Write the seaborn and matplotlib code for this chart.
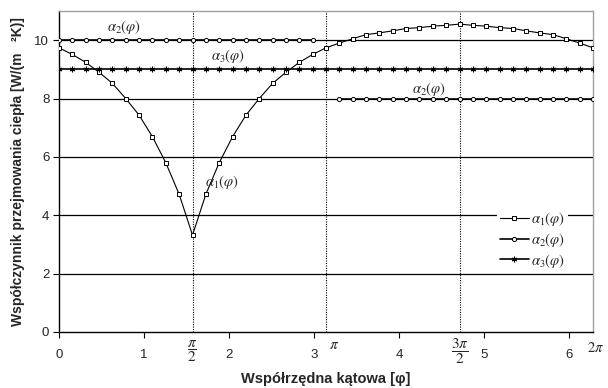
import numpy as np
import pandas as pd
import matplotlib
matplotlib.use("Agg")
import matplotlib.pyplot as plt
import matplotlib.transforms as mtransforms
import seaborn as sns

# ---- data ----
n_steps = 40
phi = [i * 2 * np.pi / n_steps for i in range(n_steps + 1)]
alpha1 = [9.74, 9.51, 9.24, 8.90, 8.52, 8.00, 7.43, 6.69, 5.80, 4.72, 3.32,
          4.72, 5.80, 6.69, 7.43, 8.00, 8.52, 8.90, 9.24, 9.51, 9.74,
          9.90, 10.05, 10.19, 10.25, 10.32, 10.40, 10.43, 10.48, 10.51, 10.55,
          10.51, 10.48, 10.43, 10.40, 10.32, 10.25, 10.19, 10.05, 9.90, 9.74]
alpha2 = [10] * 20 + [None] + [8] * 20
alpha3 = [9] * 41
x_ticks = [0, 1, 2, 3, 4, 5, 6]
y_ticks = [0, 2, 4, 6, 8, 10]
pi_labels = [(np.pi / 2, r'$\dfrac{\pi}{2}$'), (3 * np.pi / 2, r'$\dfrac{3\pi}{2}$')]
label_a1 = r'$\alpha_1(\varphi)$'
label_a2 = r'$\alpha_2(\varphi)$'
label_a3 = r'$\alpha_3(\varphi)$'

sns.set_style("white")
plt.rcParams['font.family'] = ['Liberation Sans', 'DejaVu Sans']
plt.rcParams['mathtext.fontset'] = 'stix'

fig = plt.figure(figsize=(6.08, 3.88), dpi=100)
ax = fig.add_axes([59 / 608, 1 - 332 / 388, (593 - 59) / 608, (332 - 11) / 388])

df = pd.DataFrame({'phi': phi, 'a1': alpha1,
                   'a2': [np.nan if v is None else v for v in alpha2], 'a3': alpha3})

# horizontal grid
for yv in y_ticks[1:]:
    ax.axhline(yv, color='black', lw=0.9, zorder=1)
# dotted verticals
for xv in [np.pi / 2, np.pi, 3 * np.pi / 2]:
    ax.axvline(xv, color='black', lw=0.8, ls=(0, (1, 1.2)), zorder=1)

mk = dict(markersize=3, markerfacecolor='white', markeredgecolor='black',
          markeredgewidth=0.7)
sns.lineplot(data=df, x='phi', y='a1', ax=ax, color='black', lw=0.8,
             marker='s', label=label_a1, zorder=3, **mk)
seg1 = df[df['phi'] < np.pi - 1e-9]
seg2 = df[df['phi'] > np.pi + 1e-9]
sns.lineplot(data=seg1, x='phi', y='a2', ax=ax, color='black', lw=1.2,
             marker='o', label=label_a2, zorder=3, **mk)
sns.lineplot(data=seg2, x='phi', y='a2', ax=ax, color='black', lw=1.2,
             marker='o', zorder=3, **mk)
sns.lineplot(data=df, x='phi', y='a3', ax=ax, color='black', lw=1.2,
             marker=(6, 2, 0), label=label_a3, zorder=3,
             markersize=4, markeredgecolor='black', markeredgewidth=0.8)

ax.set_xlim(0, 2 * np.pi)
ax.set_ylim(0, 11)
ax.set_xticks(x_ticks)
ax.set_yticks(y_ticks)
ax.tick_params(axis='both', labelsize=9.5, direction='out', length=4, width=0.8,
               color='black', left=True, bottom=True)
ax.tick_params(axis='x', pad=8)
ax.tick_params(axis='y', pad=3)

for s in ['left', 'bottom']:
    ax.spines[s].set_color('black')
    ax.spines[s].set_linewidth(1.0)
for s in ['top', 'right']:
    ax.spines[s].set_color('#a0a0a0')
    ax.spines[s].set_linewidth(1.0)

trans = mtransforms.blended_transform_factory(ax.transData, ax.transAxes)
for xv, lab in pi_labels:
    ax.text(xv, -0.06, lab, transform=trans, ha='center', va='center', fontsize=11)
ax.text(np.pi + 0.09, -0.04, r'$\pi$', transform=trans, ha='center', va='center', fontsize=11)
ax.text(2 * np.pi + 0.035, -0.05, r'$2\pi$', transform=trans, ha='center', va='center', fontsize=10.5)

# curve annotations
ax.text(0.77, 10.45, label_a2, fontsize=10.5, ha='center', va='center')
ax.text(1.99, 9.45, label_a3, fontsize=10.5, ha='center', va='center')
ax.text(1.92, 5.14, label_a1, fontsize=10.5, ha='center', va='center')
ax.text(4.35, 8.32, label_a2, fontsize=10.5, ha='center', va='center')

ax.set_xlabel('Współrzędna kątowa [φ]', fontsize=10.5, fontweight='bold', labelpad=8)
ax.set_ylabel('Współczynnik przejmowania ciepła [W/(m   ²K)]', fontsize=10,
              fontweight='bold', labelpad=7)

leg = ax.legend(loc='upper left', bbox_to_anchor=(0.82, 0.39), fontsize=10.5,
                frameon=True, facecolor='white', edgecolor='none', framealpha=1,
                handlelength=2.0, handletextpad=0.15, labelspacing=0.2,
                borderpad=0.2, borderaxespad=0, fancybox=False)
leg.set_zorder(5)

fig.savefig('out.png', dpi=100)
